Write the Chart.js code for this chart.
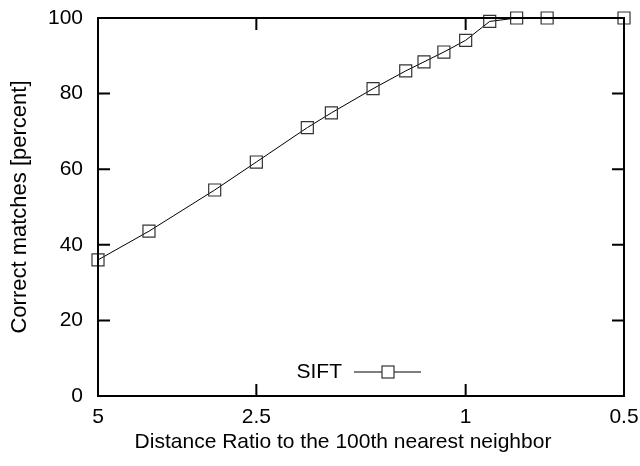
<!DOCTYPE html>
<html>
<head>
<meta charset="utf-8">
<script src="https://cdn.jsdelivr.net/npm/chart.js@4/dist/chart.umd.min.js"></script>
<style>
  html, body { margin: 0; padding: 0; background: #fff; }
</style>
</head>
<body>
<canvas id="chart" width="640" height="466"></canvas>
<script>
// distance ratio (x) and correct matches in percent (y)
const ratios = [5, 4, 3, 2.5, 2, 1.8, 1.5, 1.3, 1.2, 1.1, 1, 0.9, 0.8, 0.7, 0.5];
const matches = [36, 43.6, 54.5, 61.9, 71, 74.9, 81.3, 86, 88.4, 91, 94.1, 99.1, 100, 100, 100];
const xTicks = [5, 2.5, 1, 0.5];
const seriesName = 'SIFT';
const xTitle = 'Distance Ratio to the 100th nearest neighbor';
const yTitle = 'Correct matches [percent]';

const FONT = 'Liberation Sans, Arial, Helvetica, sans-serif';

// gnuplot style frame with inward (mirrored) ticks, x label and the key inside the plot
const framePlugin = {
    id: 'frame',
    afterDatasetsDraw(chart) {
        const ctx = chart.ctx;
        const a = chart.chartArea;
        const xs = chart.scales.x;
        const ys = chart.scales.y;
        const tick = 12;
        ctx.save();
        ctx.strokeStyle = '#000';
        ctx.lineWidth = 2;
        ctx.strokeRect(a.left, a.top, a.right - a.left, a.bottom - a.top);

        ctx.beginPath();
        xs.ticks.forEach(t => {
            const px = xs.getPixelForValue(t.value);
            ctx.moveTo(px, a.bottom); ctx.lineTo(px, a.bottom - tick);
            ctx.moveTo(px, a.top); ctx.lineTo(px, a.top + tick);
        });
        ys.ticks.forEach(t => {
            const py = ys.getPixelForValue(t.value);
            ctx.moveTo(a.left, py); ctx.lineTo(a.left + tick, py);
            ctx.moveTo(a.right, py); ctx.lineTo(a.right - tick, py);
        });
        ctx.stroke();

        ctx.fillStyle = '#000';
        ctx.font = '21px ' + FONT;
        ctx.textBaseline = 'middle';

        // x label (gnuplot puts it a bit left of the plot centre)
        ctx.textAlign = 'center';
        ctx.fillText(xTitle, a.left + 245, a.bottom + 46);

        // key
        const ky = a.bottom - 24;
        const kx = a.left + 256;
        ctx.textAlign = 'right';
        ctx.fillText(seriesName, kx - 12, ky);
        ctx.lineWidth = 1;
        ctx.beginPath();
        ctx.moveTo(kx, ky); ctx.lineTo(kx + 67, ky);
        ctx.stroke();
        ctx.strokeStyle = '#333';
        ctx.lineWidth = 1.2;
        ctx.fillStyle = '#fff';
        ctx.fillRect(kx + 28, ky - 6, 12, 12);
        ctx.strokeRect(kx + 28, ky - 6, 12, 12);
        ctx.restore();
    }
};

new Chart(document.getElementById('chart'), {
    type: 'line',
    data: {
        datasets: [{
            label: seriesName,
            data: ratios.map((r, i) => ({ x: r, y: matches[i] })),
            borderColor: '#000',
            borderWidth: 1,
            pointStyle: 'rect',
            pointRadius: 8.5,
            pointBorderColor: '#333',
            pointBorderWidth: 1.2,
            pointBackgroundColor: 'rgba(255,255,255,0)',
            tension: 0,
            clip: false
        }]
    },
    options: {
        responsive: false,
        animation: false,
        devicePixelRatio: 1,
        layout: { padding: { top: 18, right: 16, left: 0, bottom: 0 } },
        plugins: {
            legend: { display: false },
            tooltip: { enabled: false }
        },
        scales: {
            x: {
                type: 'logarithmic',
                reverse: true,
                min: 0.5,
                max: 5,
                afterBuildTicks: scale => {
                    scale.ticks = xTicks.map(v => ({ value: v }));
                },
                afterFit: scale => {
                    scale.height = 70;
                    scale.paddingLeft = 0;
                    scale.paddingRight = 0;
                },
                grid: { display: false, drawTicks: false },
                border: { display: false },
                ticks: {
                    color: '#000',
                    font: { family: FONT, size: 21 },
                    padding: 9,
                    maxRotation: 0,
                    autoSkip: false,
                    callback: v => String(v)
                }
            },
            y: {
                min: 0,
                max: 100,
                afterFit: scale => {
                    scale.width = 98;
                    scale.paddingTop = 0;
                    scale.paddingBottom = 0;
                },
                grid: { display: false, drawTicks: false },
                border: { display: false },
                ticks: {
                    stepSize: 20,
                    color: '#000',
                    font: { family: FONT, size: 21 },
                    padding: 15
                },
                title: {
                    display: true,
                    text: yTitle,
                    color: '#000',
                    font: { family: FONT, size: 22 },
                    padding: { top: 7, bottom: 0 }
                }
            }
        }
    },
    plugins: [framePlugin]
});
</script>
</body>
</html>
